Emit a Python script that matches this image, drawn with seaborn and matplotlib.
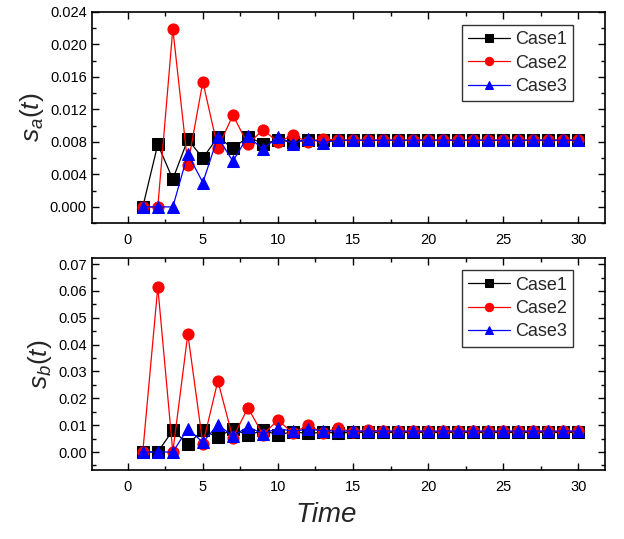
import numpy as np
import pandas as pd
import matplotlib
matplotlib.use('Agg')
import matplotlib.pyplot as plt
import seaborn as sns
from matplotlib.ticker import MultipleLocator

time = list(range(1, 31))

# s_a(t) values
sa_case1 = [0.0, 0.0077, 0.0034, 0.0083, 0.0060, 0.0086, 0.0072, 0.0086, 0.0078, 0.0082,
            0.0080] + [0.0082] * 19
sa_case2 = [0.0, 0.0, 0.0219, 0.0052, 0.0154, 0.0072, 0.0113, 0.0077, 0.0095, 0.0080,
            0.0088, 0.0080, 0.0084] + [0.0082] * 17
sa_case3 = [0.0, 0.0, 0.0, 0.0065, 0.0030, 0.0086, 0.0056, 0.0087, 0.0071, 0.0086,
            0.0078, 0.0084, 0.0079] + [0.0082] * 17

# s_b(t) values
sb_case1 = [0.0, 0.0, 0.0081, 0.0030, 0.0081, 0.0055, 0.0087, 0.0062, 0.0081, 0.0064,
            0.0076, 0.0069, 0.0074, 0.0071] + [0.0073] * 16
sb_case2 = [0.0, 0.0615, 0.0, 0.0440, 0.0030, 0.0265, 0.0052, 0.0165, 0.0065, 0.0119,
            0.0070, 0.0100, 0.0072, 0.0090, 0.0074, 0.0082] + [0.0077] * 14
sb_case3 = [0.0, 0.0, 0.0, 0.0087, 0.0036, 0.0102, 0.0059, 0.0094, 0.0068, 0.0088,
            0.0077, 0.0085, 0.0079] + [0.0078] * 17

colors = {'Case1': 'black', 'Case2': 'red', 'Case3': 'blue'}
marks = {'Case1': 's', 'Case2': 'o', 'Case3': '^'}


def long_df(a, b, c):
    return pd.DataFrame({
        'Time': time * 3,
        'value': a + b + c,
        'Case': ['Case1'] * 30 + ['Case2'] * 30 + ['Case3'] * 30,
    })


sns.set_theme(style='white')
plt.rcParams['font.family'] = ['Liberation Sans', 'DejaVu Sans']
plt.rcParams['mathtext.fontset'] = 'custom'
plt.rcParams['mathtext.it'] = 'Liberation Sans:italic'
plt.rcParams['mathtext.rm'] = 'Liberation Sans'

fig = plt.figure(figsize=(6.24, 5.39), dpi=100)
ax1 = fig.add_axes([0.147, 0.586, 0.823, 0.392])
ax2 = fig.add_axes([0.147, 0.128, 0.823, 0.393])

panels = [
    (ax1, long_df(sa_case1, sa_case2, sa_case3), r'$s_a(t)$', (-0.002, 0.024), 0.004, 0.002, '%.3f', 0.938),
    (ax2, long_df(sb_case1, sb_case2, sb_case3), r'$s_b(t)$', (-0.0067, 0.0722), 0.01, 0.005, '%.2f', 0.943),
]

for ax, df, ylab, ylim, major, minor, fmt, legtop in panels:
    sns.lineplot(data=df, x='Time', y='value', hue='Case', style='Case',
                 palette=colors, markers=marks, dashes=False, ax=ax,
                 linewidth=0.9, markersize=8)
    for ln in ax.lines:
        ln.set_markeredgecolor(ln.get_color())
    ax.set_xlim(-2.4, 31.8)
    ax.set_ylim(*ylim)
    ax.xaxis.set_major_locator(MultipleLocator(5))
    ax.xaxis.set_minor_locator(MultipleLocator(2.5))
    ax.yaxis.set_major_locator(MultipleLocator(major))
    ax.yaxis.set_minor_locator(MultipleLocator(minor))
    ax.yaxis.set_major_formatter(matplotlib.ticker.FormatStrFormatter(fmt))
    ax.tick_params(which='both', direction='in', top=True, right=True,
                   bottom=True, left=True, labelsize=10.5, colors='black')
    ax.tick_params(which='major', length=5, width=1)
    ax.tick_params(which='minor', length=3, width=1)
    ax.tick_params(axis='x', pad=7)
    for sp in ax.spines.values():
        sp.set_color('black')
        sp.set_linewidth(1.2)
    ax.set_ylabel(ylab, fontsize=19, labelpad=3)
    ax.set_xlabel('')
    leg = ax.legend(loc='upper right', bbox_to_anchor=(0.9376, legtop), borderaxespad=0,
                    fontsize=13, frameon=True, fancybox=False, edgecolor='black',
                    handlelength=2.3, borderpad=0.35, labelspacing=0.35,
                    handletextpad=0.3, markerscale=0.75)
    leg.get_frame().set_linewidth(1.0)
    for h in leg.legend_handles:
        h.set_markeredgecolor(h.get_color())

ax2.set_xlabel('Time', fontsize=20, style='italic', va='top')
ax2.xaxis.set_label_coords(0.456, -0.15)

fig.savefig('out.png', dpi=100)
